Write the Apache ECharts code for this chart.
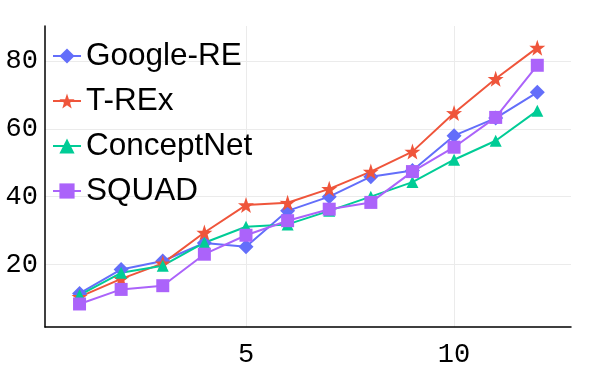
<!DOCTYPE html>
<html><head><meta charset="utf-8">
<script src="https://cdn.jsdelivr.net/npm/echarts@6/dist/echarts.min.js"></script>
<style>html,body{margin:0;padding:0;background:#fff}#c{width:600px;height:370px}</style>
</head><body><div id="c"></div>
<script>
const xValues = [1,2,3,4,5,6,7,8,9,10,11,12];
const googleRE = [11.4,18.5,21.0,26.3,25.2,35.8,40.0,45.9,47.7,58.0,63.2,70.8];
const tREx = [10.4,15.7,20.3,29.4,37.5,38.2,42.3,47.4,53.3,64.7,74.8,84.0];
const conceptNet = [10.9,17.5,19.6,26.4,31.1,31.8,35.8,40.0,44.3,50.9,56.5,65.4];
const squad = [8.3,12.6,13.7,23.0,28.6,32.9,36.3,38.3,47.4,54.6,63.4,78.8];
const xTicks = [5,10];
const yTicks = [20,40,60,80];

const star = 'path://M50,0 L61.8,35.1 L97.6,34.5 L69.1,56.2 L79.4,90.5 L50,70 L20.6,90.5 L30.9,56.2 L2.4,34.5 L38.2,35.1 Z';
function pts(arr){ return arr.map((v,i)=>[xValues[i], v]); }
function mk(name, data, color, symbol, size){
  return {name, type:'line', data:pts(data), symbol, symbolSize:size,
    lineStyle:{color, width:2}, itemStyle:{color}, animation:false};
}
const chart = echarts.init(document.getElementById('c'), null, {renderer:'canvas'});
chart.setOption({
  animation:false,
  grid:{left:45, right:29, top:26, bottom:43, containLabel:false},
  legend:{orient:'vertical', left:47, top:35, itemGap:13, itemWidth:28, itemHeight:19,
    textStyle:{fontFamily:'Liberation Sans', fontSize:31.5, color:'#000'},
    data:['Google-RE','T-REx','ConceptNet','SQUAD']},
  xAxis:{type:'value', min:0.17, max:12.81,
    axisLine:{show:true, onZero:false, lineStyle:{color:'#000', width:1.5}},
    axisTick:{show:false, customValues:xTicks},
    axisLabel:{customValues:xTicks, fontFamily:'Liberation Mono', fontSize:27, color:'#000', margin:14},
    splitLine:{show:true, lineStyle:{color:'#ebebeb', width:1}}},
  yAxis:{type:'value', min:1.5, max:90.4,
    axisLine:{show:true, onZero:false, lineStyle:{color:'#000', width:1.5}},
    axisTick:{show:false, customValues:yTicks},
    axisLabel:{customValues:yTicks, fontFamily:'Liberation Mono', fontSize:27, color:'#000', margin:7},
    splitLine:{show:true, lineStyle:{color:'#ebebeb', width:1}}},
  series:[
    mk('Google-RE', googleRE, '#636efa', 'diamond', 15),
    mk('T-REx', tREx, '#EF553B', star, 16),
    mk('ConceptNet', conceptNet, '#00cc96', 'triangle', 12),
    mk('SQUAD', squad, '#ab63fa', 'rect', 13)
  ]
});
</script></body></html>
